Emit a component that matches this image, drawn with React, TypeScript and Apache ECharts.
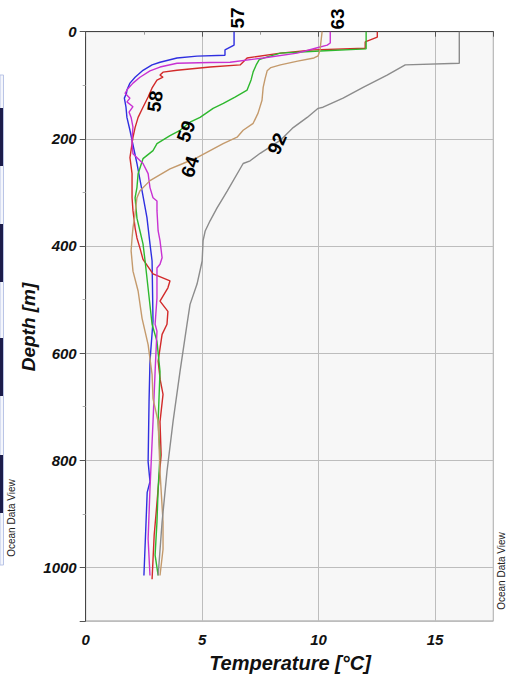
import React, { useEffect, useRef } from "react";
import * as echarts from "echarts";

const FONT = "'Liberation Sans', Arial, Helvetica, sans-serif";

// Temperature [°C] / depth [m] pairs for each station profile
const station57 = [
  [6.37, 0], [6.37, 25], [5.98, 34], [5.98, 44], [4.78, 45.5], [3.92, 49], [3.19, 57],
  [2.85, 62], [2.46, 72], [2.12, 85], [1.9, 96], [1.77, 109], [1.75, 115], [1.66, 124],
  [1.73, 141], [1.77, 160], [1.9, 184], [1.99, 203], [2.2, 246], [2.42, 297], [2.63, 347],
  [2.76, 396], [2.85, 428], [2.89, 540], [2.76, 615], [2.72, 690], [2.68, 803], [2.76, 840],
  [2.64, 860], [2.59, 916], [2.5, 1015],
];
const station58 = [
  [12.52, 0], [12.52, 10], [12.0, 19], [12.0, 31], [9.78, 34], [8.36, 40], [6.93, 49],
  [6.63, 62], [5.34, 66], [3.92, 72], [3.32, 75.5], [3.19, 81], [3.32, 85], [3.06, 90.5],
  [2.85, 105], [2.68, 122], [2.46, 141], [2.25, 160], [2.12, 179], [2.03, 197], [1.9, 235],
  [1.99, 265], [1.99, 310], [2.03, 334], [2.12, 366], [2.2, 385], [2.33, 404], [2.46, 425],
  [2.89, 452], [3.62, 465], [3.53, 478], [3.19, 503], [3.53, 522], [3.49, 546], [3.28, 565],
  [3.11, 615], [3.2, 650], [3.32, 677], [3.19, 728], [3.24, 790], [3.11, 853], [3.02, 900],
  [2.94, 940], [2.85, 1022],
];
const station59 = [
  [12.04, 0], [12.04, 32], [10.06, 36], [8.36, 40], [7.8, 47], [7.45, 52], [7.32, 62],
  [7.19, 75], [7.1, 90], [6.93, 109], [6.41, 122], [5.91, 134], [5.47, 143], [4.91, 160],
  [4.48, 169], [4.05, 184], [3.62, 194], [3.06, 209], [2.89, 222], [2.46, 237], [2.25, 265],
  [2.2, 291], [2.12, 310], [2.2, 348], [2.33, 372], [2.46, 396], [2.55, 428], [2.85, 546],
  [3.06, 578], [3.19, 634], [3.11, 728], [3.19, 790], [3.11, 853], [3.06, 915], [2.98, 977],
  [3.11, 1015],
];
const station63 = [
  [10.5, 0], [10.5, 21], [10.37, 25], [9.94, 30], [9.08, 40], [7.62, 49], [6.2, 57],
  [5.34, 57.5], [3.92, 59], [3.19, 66], [2.76, 73], [2.33, 85], [2.03, 96], [1.82, 106],
  [1.69, 115], [1.9, 124], [1.77, 131], [2.03, 140], [1.86, 150], [1.95, 160], [2.03, 178],
  [1.99, 197], [1.99, 209], [2.03, 228], [2.46, 246], [2.68, 265], [2.76, 291], [2.89, 310],
  [3.06, 316], [3.06, 334], [3.11, 372], [3.19, 390], [3.28, 422], [3.19, 434], [3.06, 441],
  [3.06, 497], [2.98, 546], [3.06, 559], [2.98, 634], [2.89, 728], [2.76, 853], [2.68, 947],
  [2.76, 1015],
];
const station64 = [
  [10.15, 0], [10.06, 34], [9.98, 45], [9.8, 49], [9.1, 55], [8.36, 62], [7.95, 67],
  [7.79, 73], [7.7, 88], [7.62, 104], [7.57, 128], [7.4, 152], [7.19, 171], [6.76, 184],
  [6.5, 197], [5.9, 209], [5.34, 222], [4.78, 235], [4.18, 246], [3.62, 256], [2.76, 278],
  [2.33, 297], [2.2, 310], [2.12, 340], [2.03, 366], [1.99, 385], [1.95, 409], [1.99, 428],
  [2.03, 447], [2.25, 484], [2.42, 535], [2.68, 584], [2.85, 640], [2.89, 685], [3.11, 728],
  [3.19, 821], [3.32, 915], [3.32, 966], [3.19, 1015],
];
const station92 = [
  [16.04, 0], [16.04, 59], [13.72, 62], [12.94, 81], [11.91, 104], [11.05, 124], [10.19, 141],
  [9.98, 143], [9.51, 160], [8.91, 179], [8.35, 203], [7.49, 227], [7.06, 241], [6.76, 246],
  [6.08, 297], [5.9, 310], [5.64, 329], [5.34, 353], [5.13, 372], [5.04, 390], [5.0, 428],
  [4.78, 471], [4.48, 509], [4.35, 546], [4.05, 634], [3.75, 728], [3.49, 821], [3.28, 915],
  [3.11, 1015],
];

const stations = ["57", "58", "59", "63", "64", "92"];
const profiles = [station57, station58, station59, station63, station64, station92];
const colors = ["#2f2fe0", "#d22a2a", "#2eb82e", "#c832d2", "#c49a6c", "#8c8c8c"];

// Where each station number is written, in (temperature, depth), and its tilt in degrees
const labelAnchors: Record<string, [number, number, number]> = {
  "57": [6.5, -25.7, 90],
  "63": [10.79, -23.8, 90],
  "58": [2.98, 130, 82],
  "59": [4.31, 186, 70],
  "64": [4.48, 252, 72],
  "92": [8.22, 209, 66],
};

const xTicks = { min: 0, max: 17.5, interval: 5 };
const yTicks = { min: 0, max: 1100, interval: 200 };

export default function App() {
  const ref = useRef<HTMLDivElement>(null);

  useEffect(() => {
    if (!ref.current) return;
    const chart = echarts.init(ref.current, null, { renderer: "svg" });

    const labelStyle = {
      fontFamily: FONT,
      fontWeight: "bold" as const,
      fontStyle: "italic" as const,
      fontSize: 15,
      color: "#111",
    };

    const lineSeries = profiles.map((data, i) => ({
      name: stations[i],
      type: "line",
      data,
      showSymbol: false,
      symbol: "none",
      smooth: false,
      lineStyle: { color: colors[i], width: 1.4 },
      z: 3,
      silent: true,
    }));

    const labelSeries = {
      type: "scatter",
      clip: false,
      silent: true,
      symbolSize: 0.01,
      itemStyle: { color: "#000" },
      z: 5,
      data: stations.map((s) => ({
        value: [labelAnchors[s][0], labelAnchors[s][1]],
        label: {
          show: true,
          position: "inside",
          formatter: s,
          rotate: labelAnchors[s][2],
          fontFamily: FONT,
          fontWeight: "bold",
          fontSize: 19,
          color: "#000",
          textBorderWidth: 0,
          opacity: 1,
        },
      })),
    };

    // small scale strip at the far left
    const stripBlocks = [108, 224, 338, 455].map((y) => ({
      type: "rect",
      shape: { x: 0, y, width: 3, height: 58 },
      style: { fill: "#1c1c4a" },
      silent: true,
    }));

    const plainNumber = (v: number) => String(v);

    chart.setOption({
      animation: false,
      textStyle: { fontFamily: FONT },
      grid: {
        left: 85.7,
        right: 14.7,
        top: 31.7,
        bottom: 61,
        show: true,
        backgroundColor: "#f7f7f7",
        borderColor: "#999",
        borderWidth: 1,
      },
      xAxis: {
        type: "value",
        min: xTicks.min,
        max: xTicks.max,
        interval: xTicks.interval,
        position: "bottom",
        axisLine: { show: true, lineStyle: { color: "#444", width: 1 } },
        axisTick: { show: true, length: 5, lineStyle: { color: "#555" } },
        minorTick: { show: true, splitNumber: 2, length: 3, lineStyle: { color: "#999" } },
        splitLine: { show: true, lineStyle: { color: "#bdbdbd", width: 1 } },
        axisLabel: { ...labelStyle, margin: 11, showMaxLabel: false, formatter: plainNumber },
      },
      yAxis: {
        type: "value",
        inverse: true,
        min: yTicks.min,
        max: yTicks.max,
        interval: yTicks.interval,
        axisLine: { show: true, lineStyle: { color: "#444", width: 1 } },
        axisTick: { show: true, length: 6, lineStyle: { color: "#555" } },
        minorTick: { show: true, splitNumber: 2, length: 3, lineStyle: { color: "#aaa" } },
        splitLine: { show: true, lineStyle: { color: "#bdbdbd", width: 1 } },
        axisLabel: { ...labelStyle, margin: 9, showMaxLabel: false, formatter: plainNumber },
      },
      series: [...lineSeries, labelSeries],
      graphic: [
        {
          type: "text",
          x: 28,
          y: 327,
          rotation: Math.PI / 2,
          silent: true,
          style: {
            text: "Depth [m]",
            fontFamily: FONT,
            fontWeight: "bold",
            fontStyle: "italic",
            fontSize: 19,
            fill: "#111",
            align: "center",
            verticalAlign: "middle",
          },
        },
        {
          type: "text",
          x: 290,
          y: 663,
          silent: true,
          style: {
            text: "Temperature [°C]",
            fontFamily: FONT,
            fontWeight: "bold",
            fontStyle: "italic",
            fontSize: 20,
            fill: "#111",
            align: "center",
            verticalAlign: "middle",
          },
        },
        {
          type: "rect",
          shape: { x: 0, y: 75, width: 3.5, height: 490 },
          style: { fill: "#f4f6fc", stroke: "#b9c4e6", lineWidth: 1 },
          silent: true,
        },
        ...stripBlocks,
        {
          type: "text",
          x: 11,
          y: 518,
          rotation: Math.PI / 2,
          silent: true,
          style: {
            text: "Ocean Data View",
            fontFamily: FONT,
            fontSize: 10,
            fill: "#222",
            align: "center",
            verticalAlign: "middle",
          },
        },
        {
          type: "text",
          x: 501,
          y: 571,
          rotation: Math.PI / 2,
          silent: true,
          style: {
            text: "Ocean Data View",
            fontFamily: FONT,
            fontSize: 10,
            fill: "#222",
            align: "center",
            verticalAlign: "middle",
          },
        },
      ],
    });

    return () => chart.dispose();
  }, []);

  return (
    <div
      ref={ref}
      style={{ position: "fixed", left: 0, top: 0, width: 508, height: 682, background: "#fff" }}
    />
  );
}
